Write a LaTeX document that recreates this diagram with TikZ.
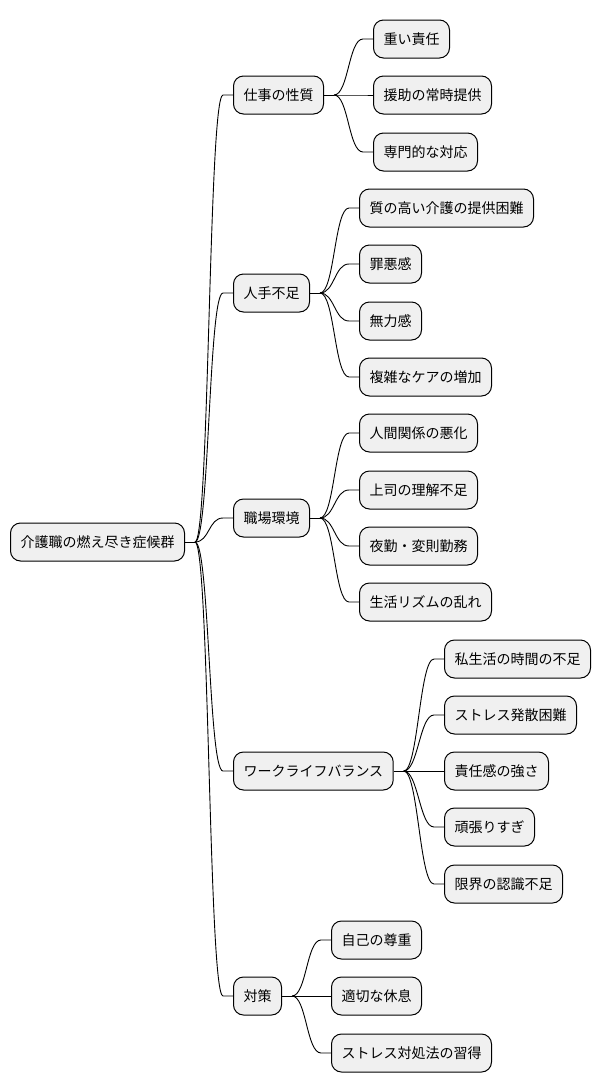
\documentclass[tikz,border=0pt]{standalone}
\usepackage{fontspec}
\setmainfont{Noto Sans CJK JP}
\usepackage{tikz}
\usetikzlibrary{positioning,calc}

\begin{document}
\begin{tikzpicture}[x=1pt, y=-1pt,
  font=\fontsize{14}{16}\selectfont,
  topic/.style={draw=black, fill=black!6, line width=1pt, rounded corners=10pt,
                minimum height=38pt, inner xsep=10pt, inner ysep=2pt, anchor=west},
  link/.style={draw=black, line width=0.9pt}]
  \useasboundingbox (0,0) rectangle (600,1090);

  % Root
  \node[topic] (root) at (10,542) {介護職の燃え尽き症候群};

  % First level
  \node[topic] (work)  at (233,95)  {仕事の性質};
  \node[topic] (staff) at (233,293) {人手不足};
  \node[topic] (env)   at (233,518) {職場環境};
  \node[topic] (wlb)   at (233,771) {ワークライフバランス};
  \node[topic] (care)  at (233,996) {対策};

  % Second level
  \node[topic] (w1) at (373,39)  {重い責任};
  \node[topic] (w2) at (373,95)  {援助の常時提供};
  \node[topic] (w3) at (373,152) {専門的な対応};

  \node[topic] (s1) at (359,208) {質の高い介護の提供困難};
  \node[topic] (s2) at (359,264) {罪悪感};
  \node[topic] (s3) at (359,321) {無力感};
  \node[topic] (s4) at (359,377) {複雑なケアの増加};

  \node[topic] (e1) at (359,433) {人間関係の悪化};
  \node[topic] (e2) at (359,490) {上司の理解不足};
  \node[topic] (e3) at (359,546) {夜勤・変則勤務};
  \node[topic] (e4) at (359,602) {生活リズムの乱れ};

  \node[topic] (b1) at (444,659) {私生活の時間の不足};
  \node[topic] (b2) at (444,715) {ストレス発散困難};
  \node[topic] (b3) at (444,771) {責任感の強さ};
  \node[topic] (b4) at (444,827) {頑張りすぎ};
  \node[topic] (b5) at (444,884) {限界の認識不足};

  \node[topic] (c1) at (331,940)  {自己の尊重};
  \node[topic] (c2) at (331,996)  {適切な休息};
  \node[topic] (c3) at (331,1053) {ストレス対処法の習得};

  % Branches
  \draw[link] (root.east) -- ++(10,0) coordinate (root-s);
  \foreach \c in {work,staff,env,wlb,care}
    \draw[link] (root-s) .. controls +(14.5,0) and +(-14.5,0) .. ([xshift=-10pt]\c.west) -- (\c.west);

  \draw[link] (work.east) -- ++(10,0) coordinate (work-s);
  \foreach \c in {w1,w2,w3}
    \draw[link] (work-s) .. controls +(14.5,0) and +(-14.5,0) .. ([xshift=-10pt]\c.west) -- (\c.west);

  \draw[link] (staff.east) -- ++(10,0) coordinate (staff-s);
  \foreach \c in {s1,s2,s3,s4}
    \draw[link] (staff-s) .. controls +(14.5,0) and +(-14.5,0) .. ([xshift=-10pt]\c.west) -- (\c.west);

  \draw[link] (env.east) -- ++(10,0) coordinate (env-s);
  \foreach \c in {e1,e2,e3,e4}
    \draw[link] (env-s) .. controls +(14.5,0) and +(-14.5,0) .. ([xshift=-10pt]\c.west) -- (\c.west);

  \draw[link] (wlb.east) -- ++(10,0) coordinate (wlb-s);
  \foreach \c in {b1,b2,b3,b4,b5}
    \draw[link] (wlb-s) .. controls +(14.5,0) and +(-14.5,0) .. ([xshift=-10pt]\c.west) -- (\c.west);

  \draw[link] (care.east) -- ++(10,0) coordinate (care-s);
  \foreach \c in {c1,c2,c3}
    \draw[link] (care-s) .. controls +(14.5,0) and +(-14.5,0) .. ([xshift=-10pt]\c.west) -- (\c.west);
\end{tikzpicture}
\end{document}
